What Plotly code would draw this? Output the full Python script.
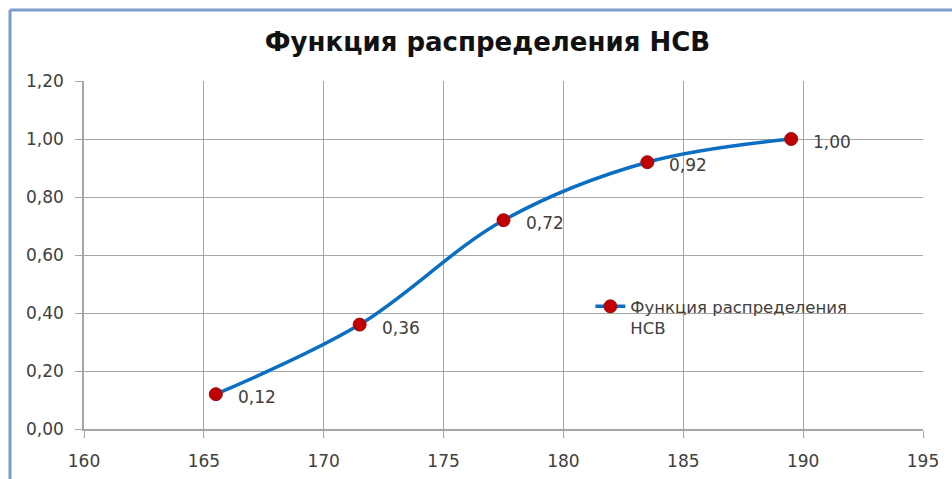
import plotly.graph_objects as go

# Distribution function of a continuous random variable
x_vals = [165.5, 171.5, 177.5, 183.5, 189.5]
f_vals = [0.12, 0.36, 0.72, 0.92, 1.00]
series_name = "Функция распределения<br>НСВ"
title_text = "Функция распределения НСВ"

line_blue = "#0a6fc2"
marker_red = "#c00000"
grid_gray = "#a6a6a6"
tick_color = "#404040"
font_family = "'DejaVu Sans', sans-serif"

fig = go.Figure()
fig.add_trace(go.Scatter(
    x=x_vals, y=f_vals,
    mode="lines+markers",
    name=series_name,
    line=dict(color=line_blue, width=3.5, shape="spline", smoothing=1.0),
    marker=dict(color=marker_red, size=13, line=dict(color="#9a1010", width=1)),
    showlegend=True,
))

# Value labels placed to the right of each point
for xv, yv in zip(x_vals, f_vals):
    fig.add_annotation(
        x=xv, y=yv, xref="x", yref="y",
        text=f"{yv:.2f}".replace(".", ","),
        showarrow=False, xanchor="left", yanchor="middle",
        xshift=20, yshift=-3,
        font=dict(family=font_family, size=17, color=tick_color),
    )

# Outer chart frame (left and top edges)
frame_color = "#7e9cc9"
fig.add_shape(type="line", xref="paper", yref="paper",
              x0=-0.0882, x1=-0.0882, y0=-0.2, y1=1.204,
              line=dict(color=frame_color, width=3))
fig.add_shape(type="line", xref="paper", yref="paper",
              x0=-0.0882, x1=1.2, y0=1.204, y1=1.204,
              line=dict(color=frame_color, width=3))

fig.update_layout(
    width=952, height=479,
    margin=dict(l=84, r=29, t=81, b=50),
    paper_bgcolor="white", plot_bgcolor="white",
    separators=", ",
    title=dict(text=f"<b>{title_text}</b>", x=0.512, xanchor="center",
               y=0.912, yanchor="middle",
               font=dict(family=font_family, size=26, color="#111111")),
    legend=dict(x=0.6035, y=0.402, xanchor="left", yanchor="top",
                valign="top",
                bgcolor="rgba(0,0,0,0)",
                font=dict(family=font_family, size=16.5, color=tick_color),
                itemwidth=30, tracegroupgap=0),
    xaxis=dict(range=[160, 195], dtick=5, tick0=160,
               showgrid=True, gridcolor=grid_gray, gridwidth=1,
               showline=True, linecolor=grid_gray, linewidth=1.5, mirror=False,
               ticks="outside", ticklen=7, tickcolor=grid_gray,
               ticklabelstandoff=9, automargin=False,
               tickfont=dict(family=font_family, size=17, color=tick_color),
               zeroline=False, fixedrange=True),
    yaxis=dict(range=[0, 1.2], dtick=0.2, tick0=0, tickformat=".2f",
               showgrid=True, gridcolor=grid_gray, gridwidth=1,
               showline=True, linecolor=grid_gray, linewidth=1.5,
               ticks="outside", ticklen=7, tickcolor=grid_gray,
               ticklabelstandoff=8, automargin=False,
               tickfont=dict(family=font_family, size=17, color=tick_color),
               zeroline=False, fixedrange=True),
)

fig.write_html("out.html")
